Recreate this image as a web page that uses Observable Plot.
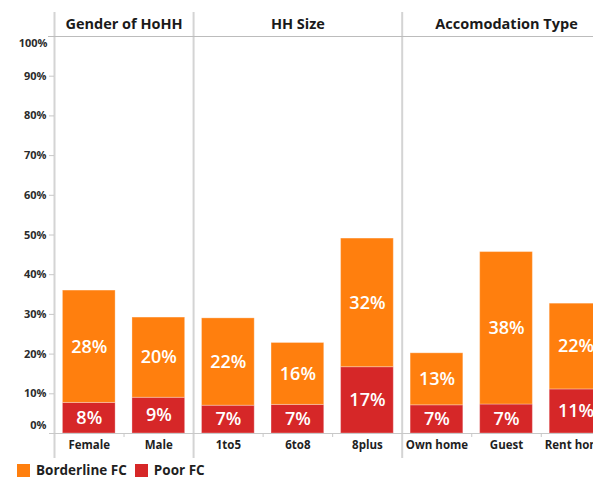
<!DOCTYPE html>
<html><head><meta charset="utf-8">
<script src="https://cdn.jsdelivr.net/npm/d3@7"></script>
<script src="https://cdn.jsdelivr.net/npm/@observablehq/plot@0.6"></script>
<style>
body{margin:0;background:#fff;}
#wrap{position:relative;width:593px;height:478px;overflow:hidden;background:#fff;font-family:"Open Sans",sans-serif;}
#chart{position:absolute;left:0;top:0;}
#legend{position:absolute;left:17px;top:463px;height:14px;}
#legend > div{min-height:0 !important;margin:0 !important;height:14px;display:flex;align-items:center;line-height:14px;}
#legend span{margin-right:8px !important;display:inline-flex;align-items:center;line-height:14px;}
#legend span > svg{margin-right:6px !important;}
</style></head><body>
<div id="wrap"><div id="chart"></div><div id="legend"></div></div>
<script>
const categories = ["Female","Male","1to5","6to8","8plus","Own home","Guest","Rent home"];
const groupOf = ["Gender of HoHH","Gender of HoHH","HH Size","HH Size","HH Size","Accomodation Type","Accomodation Type","Accomodation Type"];
const groups = ["Gender of HoHH","HH Size","Accomodation Type"];
const poorFC = [0.077,0.090,0.070,0.072,0.167,0.071,0.073,0.111];
const borderlineFC = [0.283,0.202,0.220,0.156,0.324,0.131,0.384,0.216];
const yTicks = [0,0.1,0.2,0.3,0.4,0.5,0.6,0.7,0.8,0.9,1];
const series = ["Borderline FC","Poor FC"];
const colors = ["#ff7f0e","#d62728"];

const rows = categories.flatMap((c,i)=>[
  {category:c, group:groupOf[i], type:"Poor FC", value:poorFC[i]},
  {category:c, group:groupOf[i], type:"Borderline FC", value:borderlineFC[i]}
]);

const W = 620, ML = 54, MT = 36, MB = 27, H = 460;
const step = 69.54;
const MR = W - ML - step * categories.length;
const fmt = d3.format(".0%");
const groupStarts = groups.map(g => categories[groupOf.indexOf(g)]);
const innerBounds = categories.filter((c,i)=> i>0 && groupOf[i]===groupOf[i-1]);

const headerMarks = groups.map(g => {
  const cats = categories.filter((c,i)=>groupOf[i]===g);
  const m = (cats.length-1)/2, f = Math.floor(m);
  return Plot.text([g], {x: ()=>cats[f], dx:(m-f)*step, frameAnchor:"top", dy:-12,
    text: d=>d, fontWeight:"bold", fontSize:14.5, fill:"#1a1a1a", lineAnchor:"middle"});
});

const chart = Plot.plot({
  width: W, height: H, marginLeft: ML, marginRight: MR, marginTop: MT, marginBottom: MB,
  style: {fontFamily:"Open Sans", maxWidth:"none", background:"#fff"},
  x: {domain: categories, paddingInner: 0.242, paddingOuter: 0.121, round: false, label: null, axis: null},
  y: {domain: [0,1], label: null, axis: null},
  color: {domain: series, range: colors},
  marks: [
    Plot.ruleX(groupStarts, {x: d=>d, dx: -step/2, stroke:"#d4d4d4", strokeWidth:2, insetTop:-24, insetBottom:-25}),
    Plot.ruleY([1], {stroke:"#bcbcbc", insetLeft:-6}),
    Plot.ruleX(innerBounds, {x: d=>d, dx: -step/2, y1:0, y2:0, insetBottom:-4, stroke:"#c8c8c8"}),
    Plot.barY(rows, {x:"category", y:"value", fill:"type", stroke:"white", strokeOpacity:0.3, strokeWidth:1}),
    Plot.ruleY([0], {stroke:"#c8c8c8", insetLeft:-5}),
    Plot.text(rows, Plot.stackY({x:"category", y:"value", z:"type", text: d=>Math.round(d.value*100)+"%",
      fill:"white", fontSize:18, fontWeight:600})),
    Plot.axisY({ticks: yTicks.slice(1,-1), tickFormat: fmt, tickSize:5, tickPadding:3,
      fontWeight:"bold", fontSize:11, fill:"#2b2b2b", stroke:"#c8c8c8"}),
    Plot.text([yTicks[0]], {y:d=>d, text:fmt, frameAnchor:"left", textAnchor:"end", dx:-8, dy:-8,
      fontWeight:"bold", fontSize:11, fill:"#2b2b2b"}),
    Plot.text([yTicks[yTicks.length-1]], {y:d=>d, text:fmt, frameAnchor:"left", textAnchor:"end", dx:-7, dy:7,
      fontWeight:"bold", fontSize:11, fill:"#2b2b2b"}),
    Plot.axisX({tickSize:0, tickPadding:7, fontWeight:"bold", fontSize:11.5, fill:"#1f1f1f"}),
    ...headerMarks
  ]
});
document.getElementById("chart").appendChild(chart);

const legend = Plot.legend({color:{domain:series, range:colors}, legend:"swatches", swatchSize:13,
  style:{fontFamily:"Open Sans", fontSize:"13.5px", fontWeight:"bold", color:"#1f1f1f", margin:"0"}});
document.getElementById("legend").appendChild(legend);
</script>
</body></html>
